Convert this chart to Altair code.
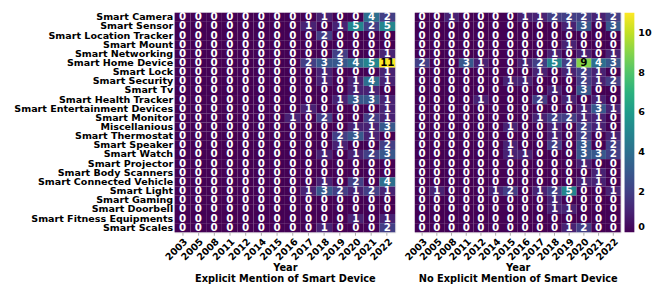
import altair as alt
import pandas as pd

years = ["2003", "2005", "2008", "2011", "2012", "2014", "2015",
         "2016", "2017", "2018", "2019", "2020", "2021", "2022"]

categories = [
    "Smart Camera", "Smart Sensor", "Smart Location Tracker", "Smart Mount",
    "Smart Networking", "Smart Home Device", "Smart Lock", "Smart Security",
    "Smart Tv", "Smart Health Tracker", "Smart Entertainment Devices",
    "Smart Monitor", "Miscellanious", "Smart Thermostat", "Smart Speaker",
    "Smart Watch", "Smart Projector", "Smart Body Scanners",
    "Smart Connected Vehicle", "Smart Light", "Smart Gaming",
    "Smart Doorbell", "Smart Fitness Equipments", "Smart Scales",
]

# counts per category (rows) and year (columns)
explicit_counts = [
    [0, 0, 0, 0, 0, 0, 0, 0, 0, 1, 0, 0, 4, 2],
    [0, 0, 0, 0, 0, 0, 0, 0, 1, 0, 1, 5, 2, 5],
    [0, 0, 0, 0, 0, 0, 0, 0, 0, 2, 0, 0, 0, 0],
    [0, 0, 0, 0, 0, 0, 0, 0, 0, 0, 0, 0, 0, 0],
    [0, 0, 0, 0, 0, 0, 0, 0, 0, 0, 2, 0, 0, 1],
    [0, 0, 0, 0, 0, 0, 0, 0, 2, 3, 3, 4, 5, 11],
    [0, 0, 0, 0, 0, 0, 0, 0, 0, 1, 0, 0, 0, 1],
    [0, 0, 0, 0, 0, 0, 0, 0, 0, 1, 0, 1, 4, 1],
    [0, 0, 0, 0, 0, 0, 0, 0, 0, 0, 0, 1, 1, 0],
    [0, 0, 0, 0, 0, 0, 0, 0, 0, 0, 1, 3, 3, 1],
    [0, 0, 0, 0, 0, 0, 0, 0, 1, 0, 0, 0, 0, 1],
    [0, 0, 0, 0, 0, 0, 0, 1, 0, 2, 0, 0, 2, 1],
    [0, 0, 0, 0, 0, 0, 0, 0, 0, 0, 0, 1, 1, 3],
    [0, 0, 0, 0, 0, 0, 0, 0, 0, 0, 2, 3, 1, 0],
    [0, 0, 0, 0, 0, 0, 0, 0, 0, 0, 1, 0, 0, 2],
    [0, 0, 0, 0, 0, 0, 0, 0, 0, 1, 0, 1, 2, 3],
    [0, 0, 0, 0, 0, 0, 0, 0, 0, 0, 0, 0, 0, 0],
    [0, 0, 0, 0, 0, 0, 0, 0, 0, 0, 0, 0, 0, 0],
    [0, 0, 0, 0, 0, 0, 0, 0, 0, 1, 0, 2, 0, 4],
    [0, 0, 0, 0, 0, 0, 0, 0, 1, 3, 2, 1, 2, 1],
    [0, 0, 0, 0, 0, 0, 0, 0, 0, 0, 0, 0, 0, 0],
    [0, 0, 0, 0, 0, 0, 0, 0, 0, 0, 0, 0, 0, 0],
    [0, 0, 0, 0, 0, 0, 0, 0, 0, 0, 0, 1, 0, 1],
    [0, 0, 0, 0, 0, 0, 0, 0, 0, 1, 0, 0, 0, 2],
]

non_explicit_counts = [
    [0, 0, 1, 0, 0, 0, 0, 1, 1, 2, 2, 2, 1, 2],
    [0, 0, 0, 0, 0, 0, 0, 0, 0, 0, 1, 3, 0, 3],
    [0, 0, 0, 0, 0, 0, 0, 0, 0, 0, 0, 0, 0, 0],
    [0, 0, 0, 0, 0, 0, 0, 0, 0, 0, 1, 0, 0, 0],
    [0, 0, 0, 0, 0, 0, 0, 0, 0, 1, 0, 1, 0, 1],
    [2, 0, 0, 3, 1, 0, 0, 1, 2, 5, 2, 9, 4, 3],
    [0, 0, 0, 0, 0, 0, 0, 0, 1, 0, 1, 2, 1, 0],
    [0, 0, 0, 0, 0, 0, 1, 1, 0, 0, 0, 2, 1, 2],
    [0, 0, 0, 0, 0, 0, 0, 0, 0, 1, 0, 3, 0, 0],
    [0, 0, 0, 0, 1, 0, 0, 0, 2, 0, 1, 0, 1, 0],
    [0, 0, 0, 0, 0, 0, 0, 0, 0, 0, 0, 1, 3, 1],
    [0, 0, 0, 0, 0, 0, 0, 0, 1, 2, 2, 1, 1, 0],
    [0, 0, 0, 0, 0, 0, 1, 0, 0, 1, 0, 2, 1, 0],
    [0, 0, 0, 0, 0, 0, 0, 0, 0, 1, 0, 2, 0, 1],
    [0, 0, 0, 0, 0, 0, 1, 0, 0, 2, 0, 3, 0, 2],
    [0, 0, 0, 0, 0, 0, 1, 1, 0, 0, 0, 3, 3, 2],
    [0, 0, 0, 0, 0, 0, 0, 0, 0, 0, 0, 1, 0, 0],
    [0, 0, 0, 0, 0, 0, 0, 0, 0, 0, 0, 0, 1, 0],
    [0, 0, 0, 0, 0, 0, 0, 0, 0, 0, 0, 1, 1, 0],
    [0, 1, 0, 0, 0, 1, 2, 0, 1, 2, 5, 0, 0, 1],
    [0, 0, 0, 0, 0, 0, 0, 0, 0, 1, 0, 0, 0, 0],
    [0, 0, 0, 0, 0, 0, 0, 0, 0, 1, 1, 0, 0, 0],
    [0, 0, 0, 0, 0, 0, 0, 0, 0, 0, 0, 0, 0, 0],
    [0, 0, 0, 0, 0, 0, 0, 0, 0, 0, 1, 2, 0, 0],
]

panel_titles = ["Explicit Mention of Smart Device", "No Explicit Mention of Smart Device"]
color_ticks = [0, 2, 4, 6, 8, 10]
color_max = 11

FONT = "DejaVu Sans"
PANEL_H = 224


def to_long(matrix):
    rows = []
    for cat, vals in zip(categories, matrix):
        for yr, v in zip(years, vals):
            rows.append({"category": cat, "year": yr, "count": v})
    return pd.DataFrame(rows)


def panel(matrix, title, show_y, width):
    df = to_long(matrix)
    x_axis = alt.Axis(
        title=["Year", title],
        labelAngle=-45, labelAlign="right", labelBaseline="top",
        labelFont=FONT, labelFontWeight="bold", labelFontSize=9.75,
        labelPadding=1, labelColor="black",
        ticks=True, tickSize=3, tickColor="#aaaaaa", domain=False,
        titleFont=FONT, titleFontWeight="bold", titleFontSize=10,
        titlePadding=1, titleLineHeight=11, titleColor="black",
    )
    if show_y:
        y_axis = alt.Axis(
            title=None, labelFont=FONT, labelFontWeight="bold",
            labelFontSize=9.75, labelColor="black", labelPadding=2,
            ticks=False, domain=False,
        )
    else:
        y_axis = None
    base = alt.Chart(df).encode(
        x=alt.X("year:O", sort=years, axis=x_axis),
        y=alt.Y("category:N", sort=categories, axis=y_axis),
    )
    rect = base.mark_rect().encode(
        color=alt.Color(
            "count:Q",
            scale=alt.Scale(scheme="viridis", domain=[0, color_max]),
            legend=alt.Legend(
                title=None, orient="right", direction="vertical",
                gradientLength=PANEL_H, gradientThickness=10,
                gradientStrokeWidth=0, values=color_ticks,
                labelFont=FONT, labelFontWeight="bold", labelFontSize=9.75,
                labelColor="black", offset=3, labelOffset=4,
            ),
        )
    )
    text = base.mark_text(
        font=FONT, fontWeight="bold", fontSize=10.5, baseline="middle"
    ).encode(
        text="count:Q",
        color=alt.condition(alt.datum["count"] >= 8, alt.value("black"), alt.value("white")),
    )
    return (rect + text).properties(width=width, height=PANEL_H)


left = panel(explicit_counts, panel_titles[0], True, 225)
right = panel(non_explicit_counts, panel_titles[1], False, 210)

chart = (
    alt.hconcat(left, right, spacing=6)
    .resolve_scale(color="shared")
    .resolve_legend(color="shared")
    .properties(padding={"left": 5, "top": 0, "right": 0, "bottom": 0})
    .configure_view(stroke=None)
    .configure(background="white")
)

chart.save("out.html", embed_options={"renderer": "svg", "actions": False})
